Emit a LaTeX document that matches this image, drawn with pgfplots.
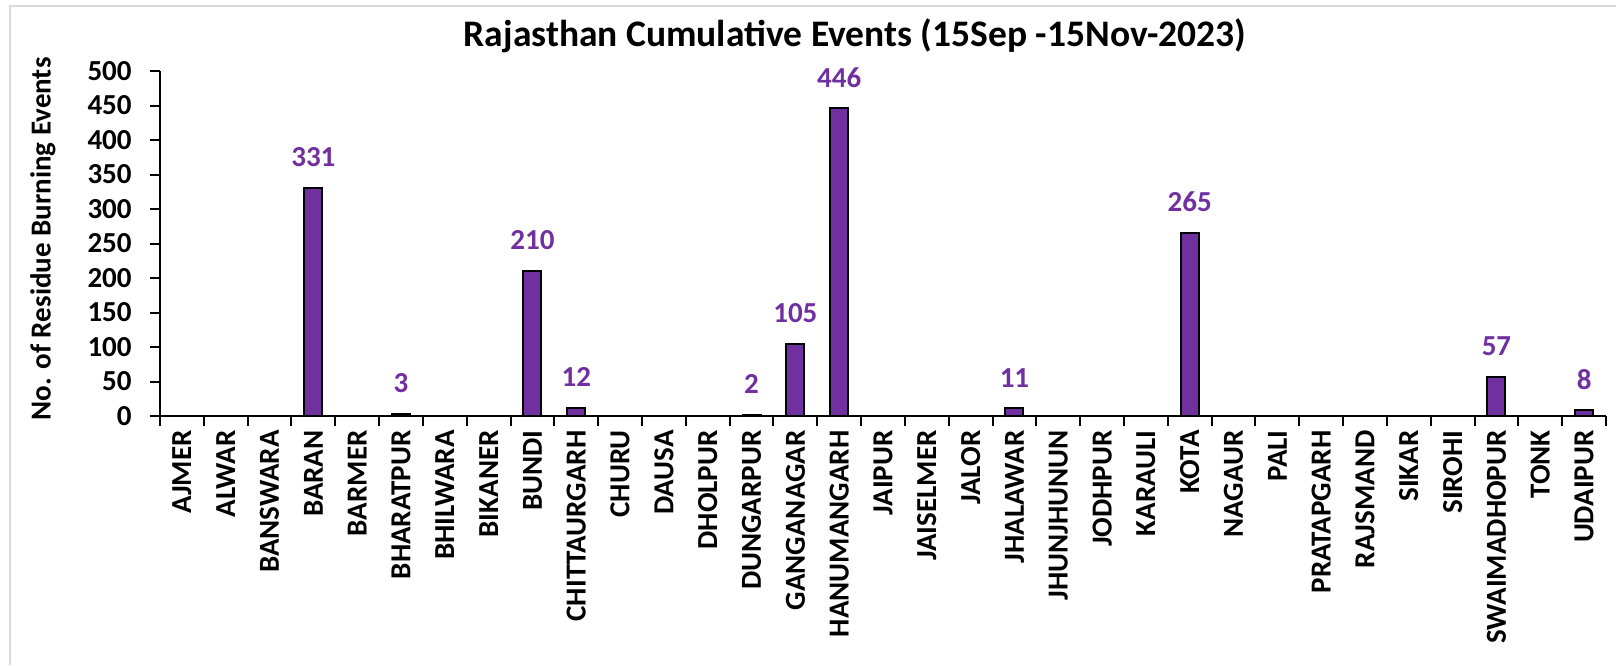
\documentclass[border=0pt]{standalone}
\usepackage{pgfplots}
\pgfplotsset{compat=1.18}
\usepackage{fontspec}
\setmainfont{Carlito}
\definecolor{barpurple}{HTML}{7030A0}
\definecolor{framegray}{HTML}{D9D9D9}
\begin{document}
\begin{tikzpicture}
\begin{axis}[
  name=ax,
  scale only axis, width=723pt, height=172.5pt,
  xmin=-0.5, xmax=32.5, ymin=0, ymax=500,
  axis lines=left, axis line style={line width=1pt, -},
  ytick={0,50,...,500},
  xtick={0,...,32},
  xticklabels={AJMER,ALWAR,BANSWARA,BARAN,BARMER,BHARATPUR,BHILWARA,BIKANER,BUNDI,CHITTAURGARH,CHURU,DAUSA,DHOLPUR,DUNGARPUR,GANGANAGAR,HANUMANGARH,JAIPUR,JAISELMER,JALOR,JHALAWAR,JHUNJHUNUN,JODHPUR,KARAULI,KOTA,NAGAUR,PALI,PRATAPGARH,RAJSMAND,SIKAR,SIROHI,SWAIMADHOPUR,TONK,UDAIPUR},
  minor xtick={-0.5,0.5,...,32.5},
  major x tick style={draw=none},
  tick align=outside,
  major tick length=5pt, minor tick length=5pt,
  tick style={line width=1pt, black},
  /pgf/number format/assume math mode=true,
  every tick label/.append style={font=\fontsize{14.5}{17}\selectfont\bfseries},
  xticklabel style={rotate=90, anchor=east, inner sep=0pt},
  xticklabel shift=2pt,
  yticklabel style={inner sep=0pt},
  yticklabel shift=9pt,
  ybar, bar width=9pt,
  nodes near coords={\ifdim\rawy pt>0pt \pgfmathprintnumber{\rawy}\fi},
  visualization depends on=rawy \as \rawy,
  every node near coord/.append style={font=\fontsize{14.5}{17}\selectfont\bfseries, text=barpurple, inner sep=0pt, yshift=10pt, anchor=south},
  clip=false,
]
\addplot[fill=barpurple, draw=black, line width=1pt] coordinates {
(0,0) (1,0) (2,0) (3,331) (4,0) (5,3) (6,0) (7,0) (8,210) (9,12)
(10,0) (11,0) (12,0) (13,2) (14,105) (15,446) (16,0) (17,0) (18,0) (19,11)
(20,0) (21,0) (22,0) (23,265) (24,0) (25,0) (26,0) (27,0) (28,0) (29,0)
(30,57) (31,0) (32,8)
};
\end{axis}
\begin{scope}[shift={(ax.south west)}]
\node[font=\fontsize{18.75}{22}\selectfont\bfseries] at (347.5pt,190pt) {Rajasthan Cumulative Events (15Sep -15Nov-2023)};
\node[rotate=90, font=\fontsize{14.5}{17}\selectfont\bfseries] at (-58.5pt,88.5pt) {No. of Residue Burning Events};
\draw[framegray, line width=1pt] (-75pt,-124.5pt) -- (-75pt,205pt) -- (728pt,205pt);
\pgfresetboundingbox
\path[use as bounding box] (-80pt,-124.5pt) rectangle (728pt,208pt);
\end{scope}
\end{tikzpicture}
\end{document}
